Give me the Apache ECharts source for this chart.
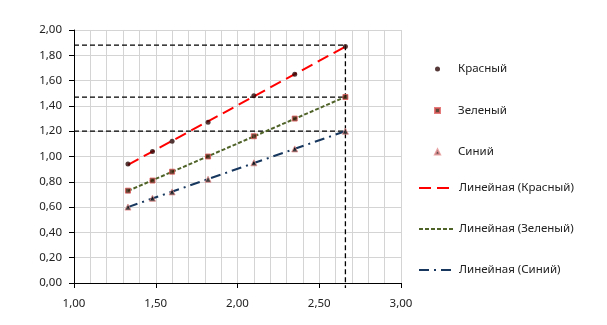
<!DOCTYPE html>
<html>
<head>
<meta charset="utf-8">
<script src="https://cdn.jsdelivr.net/npm/echarts@6/dist/echarts.min.js"></script>
<style>
  html, body { margin: 0; padding: 0; background: #fff; }
  #chart { width: 607px; height: 325px; }
</style>
</head>
<body>
<div id="chart"></div>
<script>
// значения x, общие для трёх серий
const xs = [1.33, 1.48, 1.60, 1.82, 2.10, 2.35, 2.66];
const red = [0.94, 1.04, 1.12, 1.27, 1.48, 1.65, 1.87];
const green = [0.73, 0.81, 0.88, 1.00, 1.16, 1.30, 1.47];
const blue = [0.60, 0.67, 0.72, 0.82, 0.95, 1.06, 1.20];
// вспомогательные пунктирные линии
const guideY = [1.88, 1.47, 1.20];
const guideX = 2.66;
const guideBottom = -0.04;

const names = ["Красный", "Зеленый", "Синий"];
const trendNames = names.map((n) => "Линейная (" + n + ")");

const pairs = (ys) => xs.map((x, i) => [x, ys[i]]);

// линейный тренд (МНК) по точкам серии
function trend(ys) {
  const n = xs.length;
  let sx = 0, sy = 0, sxy = 0, sxx = 0;
  for (let i = 0; i < n; i++) {
    sx += xs[i]; sy += ys[i]; sxy += xs[i] * ys[i]; sxx += xs[i] * xs[i];
  }
  const k = (n * sxy - sx * sy) / (n * sxx - sx * sx);
  const b = (sy - k * sx) / n;
  const x0 = xs[0], x1 = xs[n - 1];
  return [[x0, k * x0 + b], [x1, k * x1 + b]];
}

const fmt = (v) => v.toFixed(2).replace(".", ",");
const font = "Noto Sans";
const legendText = { fontFamily: font, fontSize: 11.5, color: "#222" };

const guides = guideY.map((y) => ({
  type: "line",
  data: [[1, y], [guideX, y]],
  symbol: "none",
  silent: true,
  lineStyle: { color: "#000", width: 1.3, type: [5, 3] },
  z: 1,
}));
guides.push({
  type: "line",
  data: [[guideX, guideY[0]], [guideX, guideBottom]],
  symbol: "none",
  silent: true,
  clip: false,
  lineStyle: { color: "#000", width: 1.3, type: [5, 3] },
  z: 1,
});

const chart = echarts.init(document.getElementById("chart"));
chart.setOption({
  animation: false,
  textStyle: { fontFamily: font },
  grid: { left: 74, right: 206, top: 30, bottom: 42 },
  legend: [
    {
      // маркеры
      orient: "vertical",
      left: 434,
      top: 63,
      padding: 0,
      itemWidth: 5,
      itemHeight: 5,
      itemGap: 29.5,
      textStyle: Object.assign({ padding: [0, 0, 0, 13] }, legendText),
      data: names,
    },
    {
      // линии тренда
      orient: "vertical",
      left: 418,
      top: 182,
      padding: 0,
      itemWidth: 35,
      itemHeight: 6,
      itemGap: 29,
      textStyle: legendText,
      data: trendNames.map((n) => ({ name: n, itemStyle: { opacity: 0 } })),
    },
  ],
  xAxis: {
    type: "value",
    min: 1,
    max: 3,
    interval: 0.5,
    axisLine: { lineStyle: { color: "#000", width: 1 } },
    axisTick: { show: true, length: 5, lineStyle: { color: "#000" } },
    axisLabel: { formatter: fmt, color: "#222", fontSize: 11.5, margin: 15 },
    splitLine: { show: true, lineStyle: { color: "#d4d4d4", width: 1 } },
    minorTick: { show: false, splitNumber: 5 },
    minorSplitLine: { show: true, lineStyle: { color: "#d4d4d4", width: 1 } },
  },
  yAxis: {
    type: "value",
    min: 0,
    max: 2,
    interval: 0.2,
    axisLine: { show: true, lineStyle: { color: "#000", width: 1 } },
    axisTick: { show: true, length: 5, lineStyle: { color: "#000" } },
    axisLabel: { formatter: fmt, color: "#222", fontSize: 11.5, margin: 12 },
    splitLine: { show: true, lineStyle: { color: "#d4d4d4", width: 1 } },
  },
  series: guides.concat([
    {
      name: trendNames[0],
      type: "line",
      data: trend(red),
      symbol: "none",
      lineStyle: { color: "#ff0000", width: 2, type: [12, 6] },
      itemStyle: { color: "#ff0000" },
      z: 2,
    },
    {
      name: trendNames[1],
      type: "line",
      data: trend(green),
      symbol: "none",
      lineStyle: { color: "#4f6228", width: 2, type: [4, 2] },
      itemStyle: { color: "#4f6228" },
      z: 2,
    },
    {
      name: trendNames[2],
      type: "line",
      data: trend(blue),
      symbol: "none",
      lineStyle: { color: "#17375e", width: 2, type: [10, 5, 2, 5] },
      itemStyle: { color: "#17375e" },
      z: 2,
    },
    {
      name: names[0],
      type: "scatter",
      data: pairs(red),
      symbol: "circle",
      symbolSize: 5,
      itemStyle: { color: "#2a0606" },
      z: 3,
    },
    {
      name: names[1],
      type: "scatter",
      data: pairs(green),
      symbol: "rect",
      symbolSize: 5,
      itemStyle: { color: "#3a1a08", borderColor: "#e05a5a", borderWidth: 1 },
      z: 3,
    },
    {
      name: names[2],
      type: "scatter",
      data: pairs(blue),
      symbol: "triangle",
      symbolSize: 6,
      itemStyle: { color: "#101010", borderColor: "#e59090", borderWidth: 1 },
      z: 3,
    },
  ]),
});
</script>
</body>
</html>
